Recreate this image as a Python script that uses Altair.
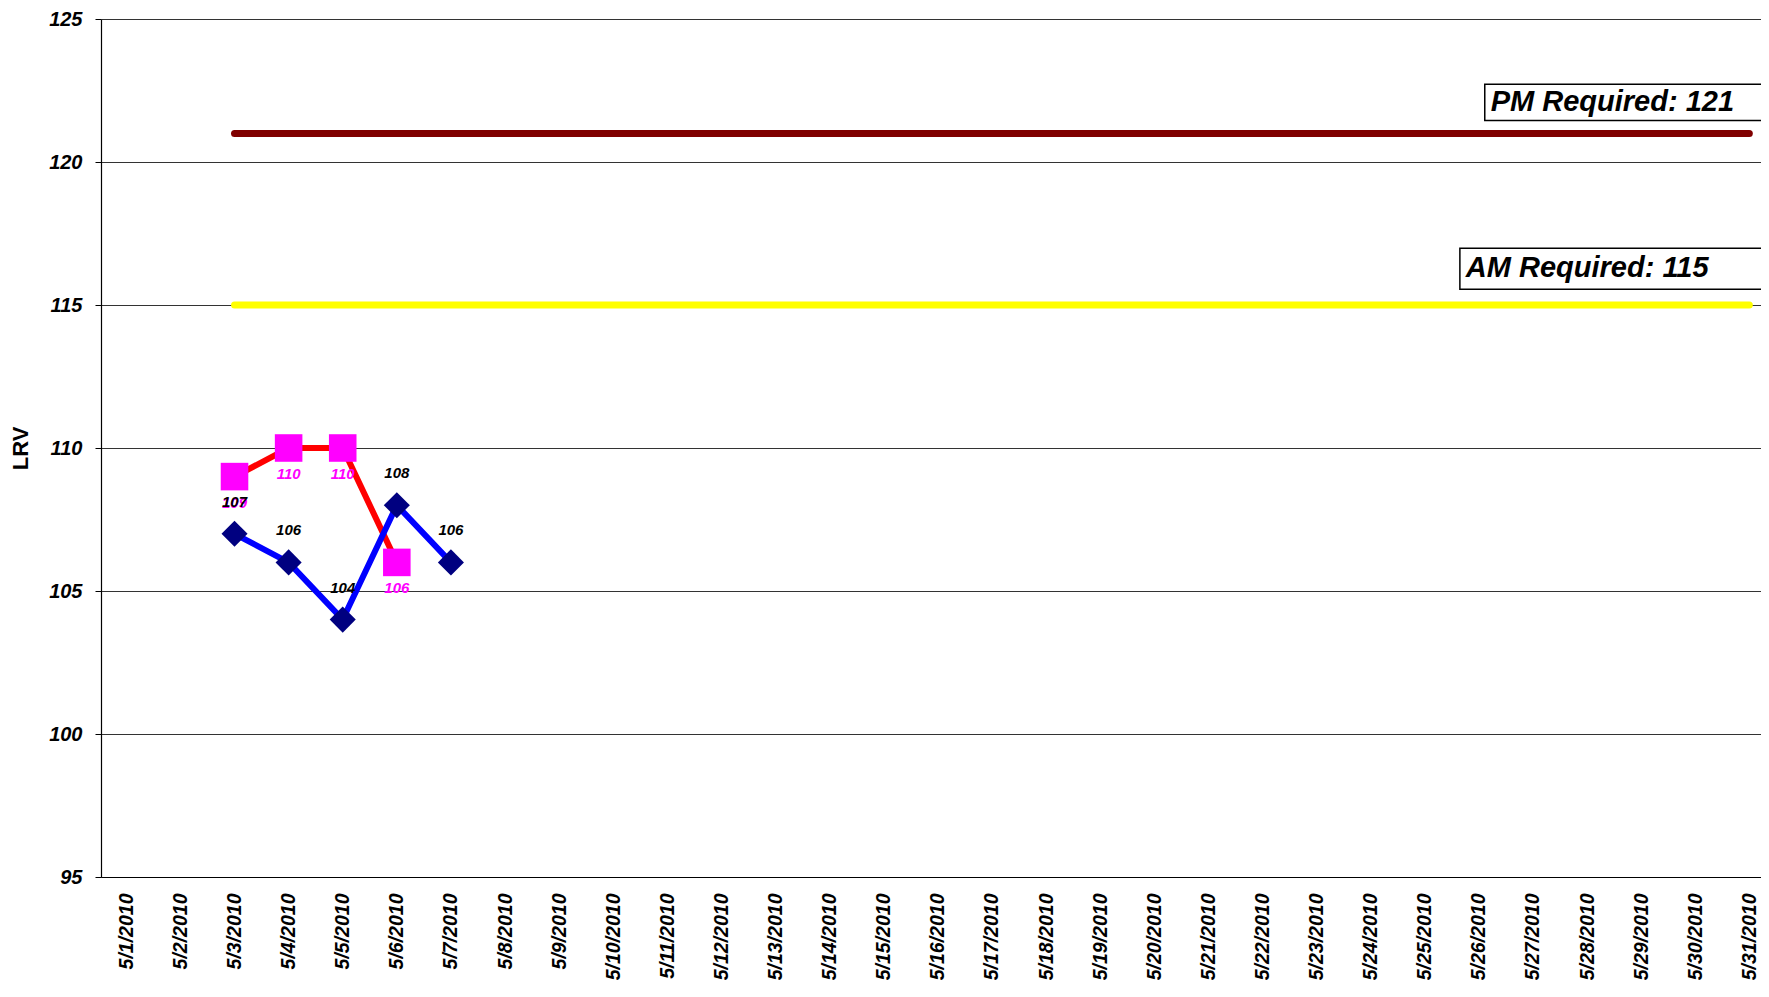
import json
import altair as alt
import pandas as pd

# ---------------- data ----------------
x_labels = ["5/1/2010", "5/2/2010", "5/3/2010", "5/4/2010", "5/5/2010", "5/6/2010",
            "5/7/2010", "5/8/2010", "5/9/2010", "5/10/2010", "5/11/2010", "5/12/2010",
            "5/13/2010", "5/14/2010", "5/15/2010", "5/16/2010", "5/17/2010", "5/18/2010",
            "5/19/2010", "5/20/2010", "5/21/2010", "5/22/2010", "5/23/2010", "5/24/2010",
            "5/25/2010", "5/26/2010", "5/27/2010", "5/28/2010", "5/29/2010", "5/30/2010",
            "5/31/2010"]
day_numbers = list(range(1, len(x_labels) + 1))

blue_days = [3, 4, 5, 6, 7]
blue_values = [107, 106, 104, 108, 106]

pink_days = [3, 4, 5, 6]
pink_values = [109, 110, 110, 106]

req_days = [3, 31]
pm_required = 121
am_required = 115

y_ticks = [95, 100, 105, 110, 115, 120, 125]

# annotation boxes (data units)
pm_box = {"x": 26.11, "x2": 31.6, "y": 121.45, "y2": 122.72, "tx": 26.22, "ty": 122.09,
          "text": "PM Required: 121"}
am_box = {"x": 25.65, "x2": 31.6, "y": 115.55, "y2": 116.98, "tx": 25.76, "ty": 116.30,
          "text": "AM Required: 115"}

# ---------------- tables ----------------
blue_df = pd.DataFrame({"day": blue_days, "value": blue_values})
pink_df = pd.DataFrame({"day": pink_days, "value": pink_values})
pm_df = pd.DataFrame({"day": req_days, "value": [pm_required] * len(req_days)})
am_df = pd.DataFrame({"day": req_days, "value": [am_required] * len(req_days)})
box_df = pd.DataFrame([pm_box, am_box])

FONT = "Arial"
PLOT_H = 858

x_scale = alt.Scale(domain=[0.532, 31.216], nice=False, zero=False)
y_scale = alt.Scale(domain=[95, 125], nice=False, zero=False)

x_axis = alt.Axis(
    values=day_numbers,
    labelExpr=f"{json.dumps(x_labels)}[datum.value - 1]",
    labelAngle=-90, labelAlign="right", labelBaseline="middle",
    labelFont=FONT, labelFontSize=19.5, labelFontWeight="bold", labelFontStyle="italic",
    labelColor="black", labelPadding=16, labelOverlap=False, labelFlush=False,
    ticks=False, grid=False, domainColor="black", domainWidth=1.2, title=None,
)
y_axis = alt.Axis(
    values=y_ticks, labelFont=FONT, labelFontSize=20, labelFontWeight="bold",
    labelFontStyle="italic", labelColor="black", labelPadding=13,
    tickSize=6, tickColor="black", domainColor="black", domainWidth=1.2,
    grid=True, gridColor="#333333", gridWidth=1,
    title="LRV", titleFont=FONT, titleFontSize=22, titleFontWeight="bold",
    titleColor="black", titleX=-81, titleY=PLOT_H / 2, titleAlign="center",
    titleBaseline="middle", titleAngle=270,
)

X = alt.X("day:Q", scale=x_scale, axis=x_axis)
Y = alt.Y("value:Q", scale=y_scale, axis=y_axis)

pm_line = alt.Chart(pm_df).mark_line(color="#800000", strokeWidth=7, strokeCap="round").encode(x=X, y=Y)
am_line = alt.Chart(am_df).mark_line(color="#FFFF00", strokeWidth=7, strokeCap="round").encode(x=X, y=Y)

boxes = alt.Chart(box_df).mark_rect(fill="white", stroke="black", strokeWidth=1.5, clip=True).encode(
    x=alt.X("x:Q", scale=x_scale, axis=x_axis),
    x2="x2:Q",
    y=alt.Y("y:Q", scale=y_scale, axis=y_axis),
    y2="y2:Q",
)
box_text = alt.Chart(box_df).mark_text(
    font=FONT, fontSize=29, fontWeight="bold", fontStyle="italic", color="black",
    align="left", baseline="middle",
).encode(
    x=alt.X("tx:Q", scale=x_scale, axis=x_axis),
    y=alt.Y("ty:Q", scale=y_scale, axis=y_axis),
    text="text:N",
)

red_line = alt.Chart(pink_df).mark_line(color="#FF0000", strokeWidth=6).encode(x=X, y=Y)
pink_pts = alt.Chart(pink_df).mark_point(shape="square", filled=True, color="#FF00FF", size=760, opacity=1).encode(x=X, y=Y)
blue_line = alt.Chart(blue_df).mark_line(color="#0000FF", strokeWidth=6).encode(x=X, y=Y)
blue_pts = alt.Chart(blue_df).mark_point(shape="diamond", filled=True, color="#000080", size=680, opacity=1).encode(x=X, y=Y)

pink_lbl = alt.Chart(pink_df).mark_text(
    font=FONT, fontSize=15, fontWeight="bold", fontStyle="italic", color="#FF00FF",
    baseline="middle", align="center", dy=26,
).encode(x=X, y=Y, text="value:Q")
blue_lbl = alt.Chart(blue_df).mark_text(
    font=FONT, fontSize=15, fontWeight="bold", fontStyle="italic", color="black",
    baseline="middle", align="center", dy=-32,
).encode(x=X, y=Y, text="value:Q")

chart = alt.layer(
    pm_line, am_line, boxes, box_text, red_line, pink_pts, blue_line, blue_pts, pink_lbl, blue_lbl
).properties(
    width=1660, height=PLOT_H,
    autosize=alt.AutoSizeParams(type="none"),
    padding={"left": 93, "top": 11, "right": 0, "bottom": 107},
    background="white",
).configure_view(strokeWidth=0)

chart.save("out.html", embed_options={"renderer": "svg", "actions": False})
